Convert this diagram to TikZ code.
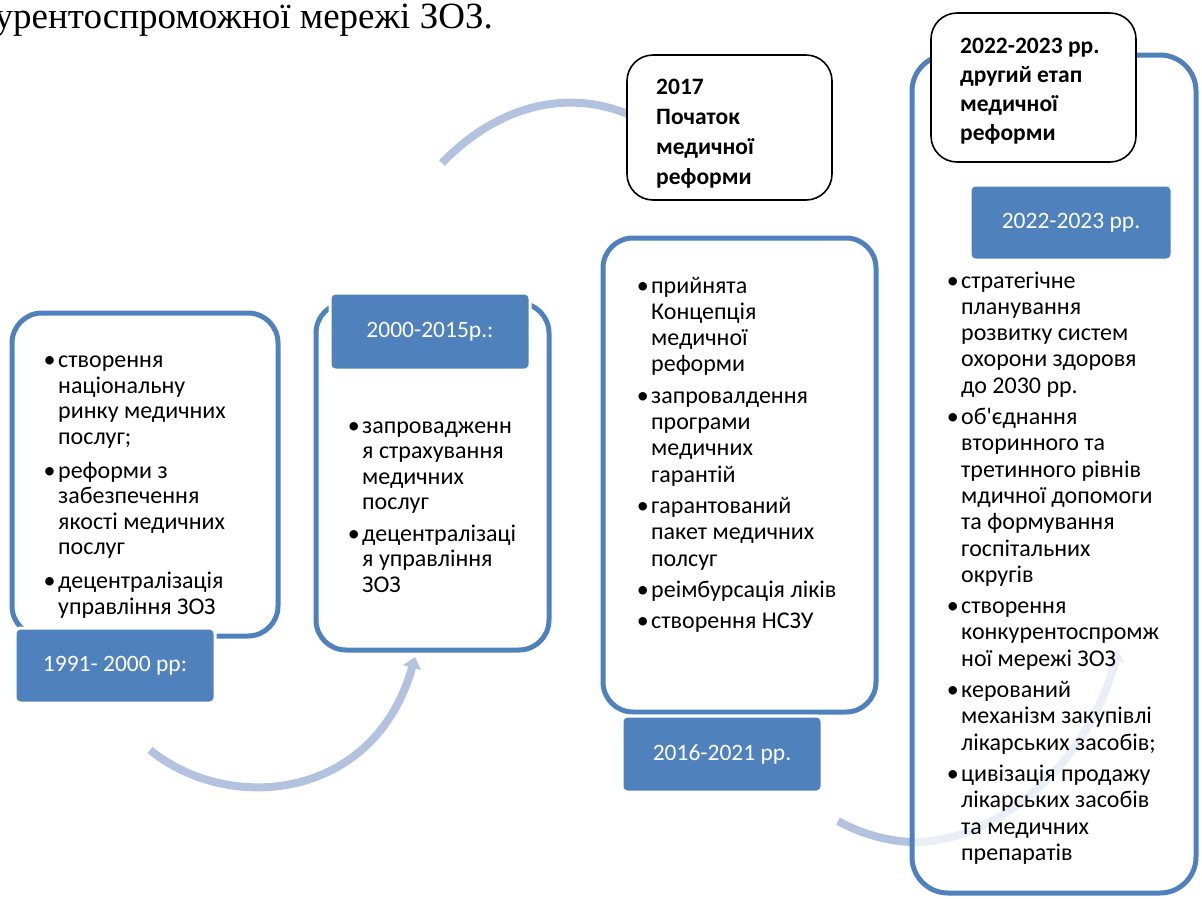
\documentclass[tikz,border=0pt]{standalone}
\usepackage{fontspec}
\setmainfont{Carlito}
\newfontfamily\serifru{Liberation Serif}
\usetikzlibrary{arrows.meta}
\definecolor{obl}{HTML}{4F81BD}
\definecolor{arcb}{HTML}{B3C2DE}
\definecolor{arcf}{HTML}{EAEFF7}
\tikzset{
  outline/.style={draw=obl, line width=5pt, rounded corners=30pt, inner sep=0pt},
  yearlabel/.style={fill=obl, draw=white, line width=3pt, rounded corners=5pt, text=white, font=\fontsize{23.5}{28}\selectfont, inner sep=0pt},
  headbox/.style={draw=black, line width=1.6pt, rounded corners=26pt, fill=white, inner sep=0pt},
  cyc/.style={draw=arcb, line width=8pt},
  bodytext/.style={anchor=base west, inner sep=0pt, font=\fontsize{24}{25.5}\selectfont},
  headtext/.style={anchor=base west, inner sep=0pt, font=\bfseries\fontsize{23.5}{30}\selectfont},
}
\newcommand{\bul}{\leavevmode\llap{•\kern2.5pt}\ignorespaces}
\begin{document}
\begin{tikzpicture}[x=1pt,y=-1pt]
\path[use as bounding box] (0,0) rectangle (1202,898);
\clip (0,0) rectangle (1202,898);

% title fragment
\node[anchor=base east, inner sep=0pt, font=\serifru\fontsize{37}{40}\selectfont] (title) at (493,28) {урентоспроможної мережі ЗОЗ.};

% cycle arcs
\coordinate (a1s) at (150,750);
\coordinate (a1e) at (415,657);
\draw[cyc, -{Triangle[width=18pt,length=11pt]}] (a1s) .. controls (230,815) and (375,800) .. (a1e);

\coordinate (a2s) at (442,163);
\coordinate (a2e) at (645,122);
\draw[cyc] (a2s) .. controls (495,108) and (570,82) .. (a2e);

\coordinate (a3s) at (838,821);
\coordinate (a3m) at (912,842);
\coordinate (a3e) at (1118,650);
\draw[cyc] (a3s) .. controls (860,833) and (885,841) .. (a3m);
\draw[draw=arcf, line width=8pt, -{Triangle[width=18pt,length=11pt]}] (a3m) .. controls (1000,843) and (1090,760) .. (a3e);

% outlines
\node[outline, minimum width=266pt, minimum height=323pt] (o1) at (145,474.5) {};
\node[outline, minimum width=233pt, minimum height=347pt] (o2) at (432.5,476.5) {};
\node[outline, minimum width=273pt, minimum height=474pt] (o3) at (739.5,475) {};
\node[outline, minimum width=284pt, minimum height=838pt, rounded corners=36pt] (o4) at (1054,474) {};

% year labels
\node[yearlabel, minimum width=200pt, minimum height=75pt] (l1) at (115,665.5) {1991- 2000 рр:};
\node[yearlabel, minimum width=200pt, minimum height=77pt] (l2) at (430,331.5) {2000-2015р.:};
\node[yearlabel, minimum width=200pt, minimum height=76pt] (l3) at (722,754) {2016-2021 рр.};
\node[yearlabel, minimum width=202pt, minimum height=75pt] (l4) at (1071,222.5) {2022-2023 рр.};

% head boxes
\node[headbox, minimum width=205pt, minimum height=145pt] (h1) at (729.5,127.5) {};
\node[headbox, minimum width=205pt, minimum height=149pt] (h2) at (1033.5,87.5) {};
\node[headtext] (h1t) at (656,94) {\parbox[t]{170pt}{\raggedright 2017\\Початок\\медичної\\реформи}};
\node[headtext, font=\bfseries\fontsize{23.5}{29}\selectfont] (h2t) at (960,53) {\parbox[t]{170pt}{\raggedright 2022-2023 рр.\\другий етап\\медичної\\реформи}};

% body texts
\node[bodytext] (t1) at (58,367.5) {\parbox[t]{215pt}{\raggedright
\bul створення\\національну\\ринку медичних\\послуг;\\[8.5pt]
\bul реформи з\\забезпечення\\якості медичних\\послуг\\[8.5pt]
\bul децентралізація\\управління ЗОЗ}};

\node[bodytext] (t2) at (362,433) {\parbox[t]{180pt}{\raggedright
\bul запровадженн\\я страхування\\медичних\\послуг\\[6pt]
\bul децентралізаці\\я управління\\ЗОЗ}};

\node[bodytext, font=\fontsize{24}{26.3}\selectfont] (t3) at (651,293) {\parbox[t]{220pt}{\raggedright
\bul прийнята\\Концепція\\медичної\\реформи\\[5pt]
\bul запровалдення\\програми\\медичних\\гарантій\\[5pt]
\bul гарантований\\пакет медичних\\полсуг\\[5pt]
\bul реімбурсація ліків\\[5pt]
\bul створення НСЗУ}};

\node[bodytext, font=\fontsize{24}{26.3}\selectfont] (t4) at (961,288) {\parbox[t]{230pt}{\raggedright
\bul стратегічне\\планування\\розвитку систем\\охорони здоровя\\до 2030 рр.\\[5pt]
\bul об\textquotesingle єднання\\вторинного та\\третинного рівнів\\мдичної допомоги\\та формування\\госпітальних\\округів\\[5pt]
\bul створення\\конкурентоспромж\\ної мережі ЗОЗ\\[5pt]
\bul керований\\механізм закупівлі\\лікарських засобів;\\[5pt]
\bul цивізація продажу\\лікарських засобів\\та медичних\\препаратів}};
\end{tikzpicture}
\end{document}
